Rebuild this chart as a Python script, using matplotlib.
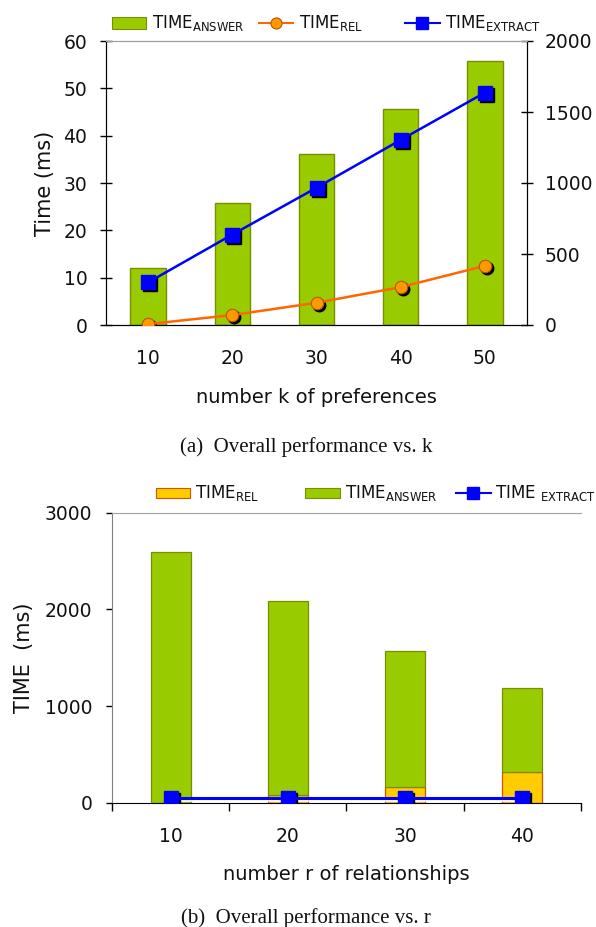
import matplotlib
matplotlib.use("Agg")
import matplotlib.pyplot as plt
from matplotlib.patches import Rectangle
from matplotlib.lines import Line2D
from matplotlib.transforms import offset_copy

plt.rcParams['font.family'] = ['DejaVu Sans']
plt.rcParams['mathtext.fontset'] = 'dejavusans'
plt.rcParams['mathtext.default'] = 'regular'

# ---- data: chart (a) ----
k_labels = ['10', '20', '30', '40', '50']
answer_k = [404, 859, 1202, 1519, 1857]      # right axis
rel_k = [0.2, 2.1, 4.7, 8.0, 12.5]           # left axis (ms)
extract_k = [9.0, 19.1, 29.0, 39.1, 49.1]    # left axis (ms)

# ---- data: chart (b) ----
r_labels = ['10', '20', '30', '40']
rel_r = [5, 86, 162, 323]
answer_r = [2591, 2004, 1405, 868]
extract_r = [48, 48, 48, 48]

GREEN = '#99CC00'
GREEN_EDGE = '#7A8C00'
ORANGE_LINE = '#FF6600'
ORANGE_FILL = '#FF9900'
BLUE = '#0000FF'
YELLOW = '#FFCC00'
YELLOW_EDGE = '#CC5500'
TXT = '#111111'

W, H = 596, 927
fig = plt.figure(figsize=(W / 100, H / 100), dpi=100)


def fx(px):
    return px / W


def fy(py):
    return 1 - py / H


# ================= chart (a) =================
axA = fig.add_axes([fx(106), fy(325), fx(527) - fx(106), fy(41) - fy(325)])
axL = axA.twinx()  # lines axis drawn above bars

xa = list(range(len(k_labels)))
axA.bar(xa, answer_k, width=0.42, color=GREEN, edgecolor=GREEN_EDGE, linewidth=1.0, zorder=2)
axA.set_ylim(0, 2000)
axA.set_xlim(-0.5, len(k_labels) - 0.5)
axA.yaxis.tick_right()
axA.set_yticks([0, 500, 1000, 1500, 2000])
axA.tick_params(axis='y', direction='inout', length=9, width=1, labelsize=13.5, pad=8.5,
                labelcolor=TXT)

axL.set_ylim(0, 60)
axL.yaxis.tick_left()
axL.yaxis.set_label_position('left')
axL.set_yticks([0, 10, 20, 30, 40, 50, 60])
axL.tick_params(axis='y', direction='inout', length=9, width=1, labelsize=13.5, pad=9,
                labelcolor=TXT)
axL.set_ylabel('Time (ms)', fontsize=15, labelpad=6, color=TXT)

shadow = offset_copy(axL.transData, fig=fig, x=2, y=-2, units='dots')
axL.plot(xa, rel_k, ls='none', marker='o', ms=9, color='black', transform=shadow, zorder=3)
axL.plot(xa, extract_k, ls='none', marker='s', ms=9.5, color='black', transform=shadow, zorder=3)
axL.plot(xa, rel_k, color=ORANGE_LINE, lw=1.8, marker='o', ms=9, mfc=ORANGE_FILL,
         mec='#B35900', mew=0.8, zorder=4)
axL.plot(xa, extract_k, color=BLUE, lw=1.8, marker='s', ms=9.5, mfc=BLUE, mec=BLUE, zorder=4)

# x axis: ticks at category boundaries, labels at centers
axA.set_xticks([i - 0.5 for i in range(len(k_labels) + 1)])
axA.set_xticklabels([])
axA.set_xticks(xa, minor=True)
axA.set_xticklabels(k_labels, minor=True)
axA.tick_params(axis='x', which='major', direction='inout', length=11, width=1)
axA.tick_params(axis='x', which='minor', length=0, labelsize=13.5, pad=17, labelcolor=TXT)
axA.set_xlabel('number k of preferences', fontsize=14, labelpad=15, color=TXT)
axL.set_xticks([])

for ax in (axA, axL):
    ax.spines['top'].set_color('#A0A0A0')
    ax.spines['left'].set_color('black')
    ax.spines['right'].set_color('black')
    ax.spines['bottom'].set_color('black')

fig.text(fx(306), fy(447), '(a)  Overall performance vs. k', family='Liberation Serif',
         fontsize=15, ha='center', va='center', color=TXT)

# legend (a)
ly = fy(23)
fig.add_artist(Rectangle((fx(112), fy(28.5)), fx(146) - fx(112), fy(17.5) - fy(28.5),
                         transform=fig.transFigure, facecolor=GREEN, edgecolor=GREEN_EDGE, lw=0.8))
fig.text(fx(152), ly, r'TIME$_{ANSWER}$', fontsize=12, va='center', color=TXT)
fig.add_artist(Line2D([fx(259), fx(276), fx(293)], [ly, ly, ly], transform=fig.transFigure,
                      color=ORANGE_LINE, lw=1.5, marker='o', markevery=[1], ms=8,
                      mfc=ORANGE_FILL, mec='#B35900', mew=0.8))
fig.text(fx(299), ly, r'TIME$_{REL}$', fontsize=12, va='center', color=TXT)
fig.add_artist(Line2D([fx(405), fx(422), fx(440)], [ly, ly, ly], transform=fig.transFigure,
                      color=BLUE, lw=1.5, marker='s', markevery=[1], ms=8, mfc=BLUE, mec=BLUE))
fig.text(fx(445), ly, r'TIME$_{EXTRACT}$', fontsize=12, va='center', color=TXT)

# ================= chart (b) =================
axB = fig.add_axes([fx(112), fy(803), fx(581) - fx(112), fy(512.7) - fy(803)])
xb = list(range(len(r_labels)))
axB.bar(xb, rel_r, width=0.34, color=YELLOW, edgecolor=YELLOW_EDGE, linewidth=0.9, zorder=2)
axB.bar(xb, answer_r, width=0.34, bottom=rel_r, color=GREEN, edgecolor=GREEN_EDGE,
        linewidth=0.9, zorder=2)

shadowB = offset_copy(axB.transData, fig=fig, x=2, y=-2, units='dots')
axB.plot(xb, extract_r, color='white', lw=1.2,
         transform=offset_copy(axB.transData, fig=fig, x=0, y=-2.5, units='dots'), zorder=3)
axB.plot(xb, extract_r, ls='none', marker='s', ms=9.5, color='black', transform=shadowB, zorder=3)
axB.plot(xb, extract_r, color=BLUE, lw=2.2, marker='s', ms=9.5, mfc=BLUE, mec=BLUE, zorder=4)

axB.set_ylim(0, 3000)
axB.set_xlim(-0.5, len(r_labels) - 0.5)
axB.set_yticks([0, 1000, 2000, 3000])
axB.tick_params(axis='y', direction='out', length=4.5, width=1, labelsize=13.5, pad=9.5,
                labelcolor=TXT)
axB.set_ylabel('TIME  (ms)', fontsize=15, labelpad=8, color=TXT)

axB.set_xticks([i - 0.5 for i in range(len(r_labels) + 1)])
axB.set_xticklabels([])
axB.set_xticks(xb, minor=True)
axB.set_xticklabels(r_labels, minor=True)
axB.tick_params(axis='x', which='major', direction='out', length=5.5, width=1)
axB.tick_params(axis='x', which='minor', length=0, labelsize=13.5, pad=17, labelcolor=TXT)
axB.set_xlabel('number r of relationships', fontsize=14, labelpad=14, color=TXT)

axB.spines['right'].set_visible(False)
axB.spines['top'].set_color('#A0A0A0')
axB.spines['left'].set_color('#808080')
axB.spines['bottom'].set_color('black')

fig.text(fx(306), fy(918), '(b)  Overall performance vs. r', family='Liberation Serif',
         fontsize=15, ha='center', va='center', color=TXT)

# legend (b)
ly = fy(493)
fig.add_artist(Rectangle((fx(156), fy(498.5)), fx(190) - fx(156), fy(487.5) - fy(498.5),
                         transform=fig.transFigure, facecolor=YELLOW, edgecolor=YELLOW_EDGE, lw=0.8))
fig.text(fx(195), ly, r'TIME$_{REL}$', fontsize=12, va='center', color=TXT)
fig.add_artist(Rectangle((fx(305), fy(498.5)), fx(340) - fx(305), fy(487.5) - fy(498.5),
                         transform=fig.transFigure, facecolor=GREEN, edgecolor=GREEN_EDGE, lw=0.8))
fig.text(fx(345), ly, r'TIME$_{ANSWER}$', fontsize=12, va='center', color=TXT)
fig.add_artist(Line2D([fx(456), fx(473), fx(491)], [ly, ly, ly], transform=fig.transFigure,
                      color=BLUE, lw=1.5, marker='s', markevery=[1], ms=8, mfc=BLUE, mec=BLUE))
fig.text(fx(495), ly, r'TIME $_{EXTRACT}$', fontsize=12, va='center', color=TXT)

fig.savefig('out.png', dpi=100)
